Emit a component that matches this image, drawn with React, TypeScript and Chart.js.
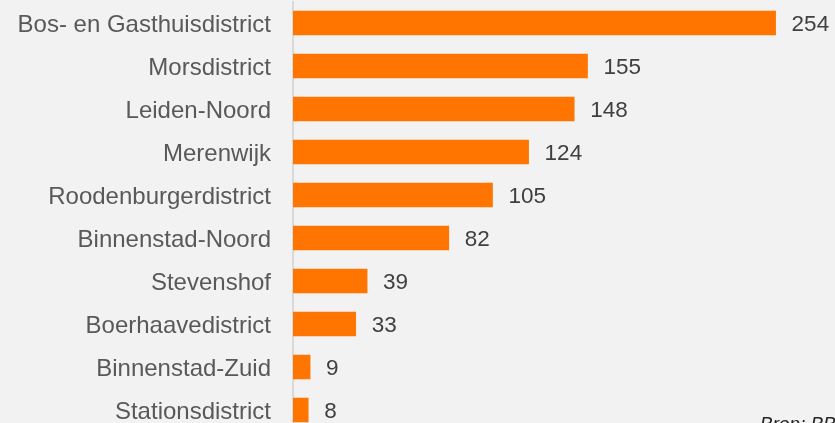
import React, { useEffect, useRef } from "react";
import { Chart, registerables } from "chart.js";

Chart.register(...registerables);

const categories = [
  "Bos- en Gasthuisdistrict",
  "Morsdistrict",
  "Leiden-Noord",
  "Merenwijk",
  "Roodenburgerdistrict",
  "Binnenstad-Noord",
  "Stevenshof",
  "Boerhaavedistrict",
  "Binnenstad-Zuid",
  "Stationsdistrict",
];
const values = [254, 155, 148, 124, 105, 82, 39, 33, 9, 8];
const sourceText = "Bron: BBS";

const valueLabels = {
  id: "valueLabels",
  afterDatasetsDraw(chart: any) {
    const ctx = chart.ctx;
    const meta = chart.getDatasetMeta(0);
    ctx.save();
    ctx.font = "22.5px 'Liberation Sans', Arial, sans-serif";
    ctx.fillStyle = "#404040";
    ctx.textAlign = "left";
    ctx.textBaseline = "middle";
    meta.data.forEach((bar: any, i: number) => {
      ctx.fillText(String(values[i]), bar.x + 16, bar.y + 2);
    });
    ctx.font = "italic 19px 'Liberation Sans', Arial, sans-serif";
    ctx.fillStyle = "#262626";
    ctx.textBaseline = "alphabetic";
    ctx.fillText(sourceText, 760, 429.5);
    ctx.restore();
  },
};

export default function App() {
  const ref = useRef<HTMLCanvasElement | null>(null);
  useEffect(() => {
    if (!ref.current) return;
    const chart = new Chart(ref.current, {
      type: "bar",
      data: {
        labels: categories,
        datasets: [
          {
            data: values,
            backgroundColor: "#FF7500",
            borderWidth: 0,
            barThickness: 24,
          },
        ],
      },
      options: {
        indexAxis: "y",
        animation: false,
        responsive: true,
        maintainAspectRatio: false,
        layout: { padding: { top: 1.5, bottom: 4.5, left: 0, right: 29 } },
        plugins: {
          legend: { display: false },
          tooltip: { enabled: false },
        },
        scales: {
          x: {
            display: false,
            min: 0,
            max: 270,
          },
          y: {
            afterFit: (scale: any) => {
              scale.width = 293;
              scale.paddingTop = 0;
              scale.paddingBottom = 0;
            },
            grid: { display: false, drawTicks: false },
            border: { display: true, color: "#D9D9D9", width: 2 },
            ticks: {
              padding: 22,
              labelOffset: 2,
              color: "#595959",
              font: { family: "'Liberation Sans', Arial, sans-serif", size: 24 },
            },
          },
        },
      },
      plugins: [valueLabels],
    });
    return () => chart.destroy();
  }, []);
  return (
    <div
      style={{
        position: "fixed",
        left: 0,
        top: 0,
        width: 835,
        height: 423,
        overflow: "hidden",
        background: "#F2F2F2",
      }}
    >
      <div style={{ position: "relative", width: 835, height: 436 }}>
        <canvas ref={ref} />
      </div>
    </div>
  );
}
